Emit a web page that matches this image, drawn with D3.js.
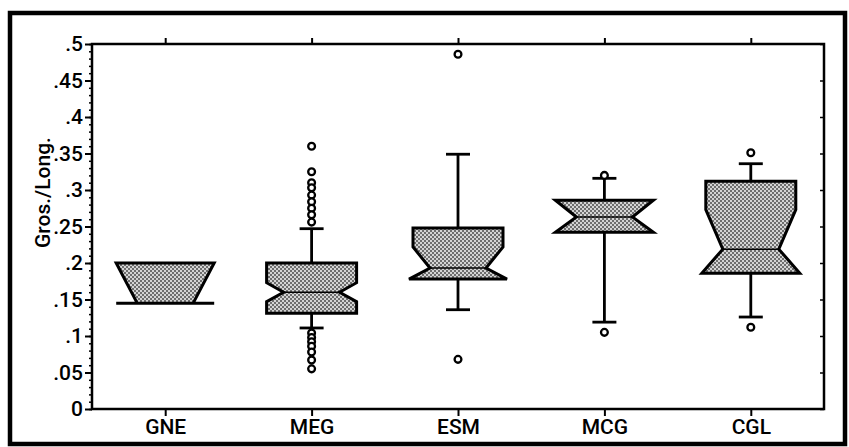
<!DOCTYPE html>
<html lang="en">
<head>
<meta charset="UTF-8">
<title>Gros./Long.</title>
<style>
  * { margin: 0; padding: 0; }
  body { background: #fff; }
  text { font-family: Roboto, "Liberation Sans", Arial, sans-serif; font-weight: 500; }
</style>
</head>
<body>
<div id="chart-area"></div>
<script src="https://cdn.jsdelivr.net/npm/d3@7"></script>
<script>
  // values
  const categories = ['GNE', 'MEG', 'ESM', 'MCG', 'CGL']
  const q1 = [0.145, 0.131, 0.178, 0.242, 0.186]
  const median = [0.145, 0.160, 0.193, 0.263, 0.219]
  const q3 = [0.200, 0.200, 0.248, 0.286, 0.312]
  const notchLo = [0.120, 0.147, 0.168, 0.235, 0.170]
  const notchHi = [0.205, 0.173, 0.222, 0.292, 0.273]
  const whiskerLo = [null, 0.111, 0.136, 0.119, 0.126]
  const whiskerHi = [null, 0.247, 0.349, 0.316, 0.336]
  const outliers = [
    [],
    [0.360, 0.325, 0.310, 0.303, 0.293, 0.284, 0.275, 0.266, 0.256,
     0.104, 0.098, 0.092, 0.086, 0.078, 0.067, 0.055],
    [0.486, 0.068],
    [0.320, 0.105],
    [0.351, 0.112]
  ]
  const yTicks = [0, 0.05, 0.1, 0.15, 0.2, 0.25, 0.3, 0.35, 0.4, 0.45, 0.5]

  const W = 849, H = 447
  const PLOT = {LEFT: 92, RIGHT: 824, TOP: 44, BOTTOM: 409}

  const svg = d3.select('#chart-area').append('svg')
    .attr('width', W)
    .attr('height', H)

  const defs = svg.append('defs')
  const pat = defs.append('pattern')
    .attr('id', 'stipple')
    .attr('width', 4).attr('height', 4)
    .attr('patternUnits', 'userSpaceOnUse')
  pat.append('rect').attr('width', 4).attr('height', 4).attr('fill', '#d4d4d4')
  pat.append('rect').attr('width', 2).attr('height', 2).attr('fill', '#6e6e6e')
  pat.append('rect').attr('x', 2).attr('y', 2).attr('width', 2).attr('height', 2).attr('fill', '#6e6e6e')

  // outer frame
  svg.append('rect')
    .attr('x', 10).attr('y', 13)
    .attr('width', 835).attr('height', 431)
    .attr('fill', 'none')
    .attr('stroke', '#000')
    .attr('stroke-width', 4.5)

  const x = d3.scalePoint().domain(categories)
    .range([PLOT.LEFT, PLOT.RIGHT])
    .padding(0.5)
  const y = d3.scaleLinear().domain([0, 0.5]).range([PLOT.BOTTOM, PLOT.TOP])

  const fmt = d => d === 0 ? '0' : d3.format('.2~f')(d).replace(/^0/, '')

  // left axis, minor ticks first
  svg.append('g')
    .attr('transform', `translate(${PLOT.LEFT},0)`)
    .call(d3.axisLeft(y).ticks(50).tickSize(3).tickFormat(''))
    .call(g => g.select('.domain').remove())
    .call(g => g.selectAll('line').attr('stroke-width', 1.5))

  svg.append('g')
    .attr('transform', `translate(${PLOT.LEFT},0)`)
    .call(d3.axisLeft(y).tickValues(yTicks).tickSize(7).tickPadding(2).tickFormat(fmt))
    .call(g => g.select('.domain').remove())
    .call(g => g.selectAll('line').attr('stroke-width', 2))
    .call(g => g.selectAll('text')
      .attr('font-size', 21)
      .attr('font-family', null)
      .attr('fill', '#000'))

  // right axis ticks pointing inward
  svg.append('g')
    .attr('transform', `translate(${PLOT.RIGHT},0)`)
    .call(d3.axisLeft(y).tickValues(yTicks).tickSize(4).tickFormat(''))
    .call(g => g.select('.domain').remove())
    .call(g => g.selectAll('line').attr('stroke-width', 1.5))

  // bottom axis
  svg.append('g')
    .attr('transform', `translate(0,${PLOT.BOTTOM})`)
    .call(d3.axisBottom(x).tickSize(7).tickPadding(3))
    .call(g => g.select('.domain').remove())
    .call(g => g.selectAll('line').attr('stroke-width', 2))
    .call(g => g.selectAll('text')
      .attr('font-size', 21)
      .attr('font-family', null)
      .attr('fill', '#000'))

  // top axis
  svg.append('g')
    .attr('transform', `translate(0,${PLOT.TOP})`)
    .call(d3.axisTop(x).tickSize(6).tickFormat(''))
    .call(g => g.select('.domain').remove())
    .call(g => g.selectAll('line').attr('stroke-width', 2))

  // plot box
  svg.append('rect')
    .attr('x', PLOT.LEFT).attr('y', PLOT.TOP)
    .attr('width', PLOT.RIGHT - PLOT.LEFT)
    .attr('height', PLOT.BOTTOM - PLOT.TOP)
    .attr('fill', 'none')
    .attr('stroke', '#000')
    .attr('stroke-width', 2.5)

  svg.append('text')
    .attr('transform', `translate(50,${(PLOT.TOP + PLOT.BOTTOM) / 2 - 34}) rotate(-90)`)
    .attr('text-anchor', 'middle')
    .attr('font-size', 21)
    .text('Gros./Long.')

  // boxes
  const HALF = 45, FLARE = 4, WAIST = 28, CAP = 12

  const data = categories.map((c, i) => ({
    c, q1: q1[i], med: median[i], q3: q3[i], nLo: notchLo[i], nHi: notchHi[i],
    wLo: whiskerLo[i], wHi: whiskerHi[i], out: outliers[i]
  }))

  const boxPath = d => {
    const cx = x(d.c)
    const top = d.nHi >= d.q3 ? HALF + FLARE : HALF
    const bot = d.nLo <= d.q1 ? HALF + FLARE : HALF
    const hiY = Math.min(d.nHi, d.q3)
    const loY = Math.max(d.nLo, d.q1)
    const pts = [
      [cx - top, y(d.q3)], [cx - HALF, y(hiY)], [cx - WAIST, y(d.med)],
      [cx - HALF, y(loY)], [cx - bot, y(d.q1)],
      [cx + bot, y(d.q1)], [cx + HALF, y(loY)], [cx + WAIST, y(d.med)],
      [cx + HALF, y(hiY)], [cx + top, y(d.q3)]
    ]
    if (d.nHi >= d.q3) { pts[1] = pts[0]; pts[8] = pts[9] }
    if (d.nLo <= d.q1) { pts[3] = pts[4]; pts[6] = pts[5] }
    return d3.line()(pts) + 'Z'
  }

  const box = svg.append('g').selectAll('g').data(data).join('g')

  const wh = box.filter(d => d.wLo != null)
  wh.append('line')
    .attr('x1', d => x(d.c)).attr('x2', d => x(d.c))
    .attr('y1', d => y(d.wHi)).attr('y2', d => y(d.q3))
    .attr('stroke', '#000').attr('stroke-width', 2.8)
  wh.append('line')
    .attr('x1', d => x(d.c)).attr('x2', d => x(d.c))
    .attr('y1', d => y(d.q1)).attr('y2', d => y(d.wLo))
    .attr('stroke', '#000').attr('stroke-width', 2.8)
  wh.selectAll('line.cap').data(d => [[d.c, d.wHi], [d.c, d.wLo]]).join('line')
    .attr('class', 'cap')
    .attr('x1', d => x(d[0]) - CAP).attr('x2', d => x(d[0]) + CAP)
    .attr('y1', d => y(d[1])).attr('y2', d => y(d[1]))
    .attr('stroke', '#000').attr('stroke-width', 2.8)

  box.append('path')
    .attr('d', boxPath)
    .attr('fill', 'url(#stipple)')
    .attr('stroke', '#000')
    .attr('stroke-width', 3)
    .attr('stroke-linejoin', 'miter')

  // median line across the waist
  box.filter(d => d.med > d.q1)
    .append('line')
    .attr('x1', d => x(d.c) - WAIST).attr('x2', d => x(d.c) + WAIST)
    .attr('y1', d => y(d.med)).attr('y2', d => y(d.med))
    .attr('stroke', '#000').attr('stroke-width', 1.5)

  box.selectAll('circle').data(d => d.out.map(v => [d.c, v])).join('circle')
    .attr('cx', d => x(d[0]))
    .attr('cy', d => y(d[1]))
    .attr('r', 3.4)
    .attr('fill', '#fff')
    .attr('stroke', '#000')
    .attr('stroke-width', 2.3)
</script>
</body>
</html>
